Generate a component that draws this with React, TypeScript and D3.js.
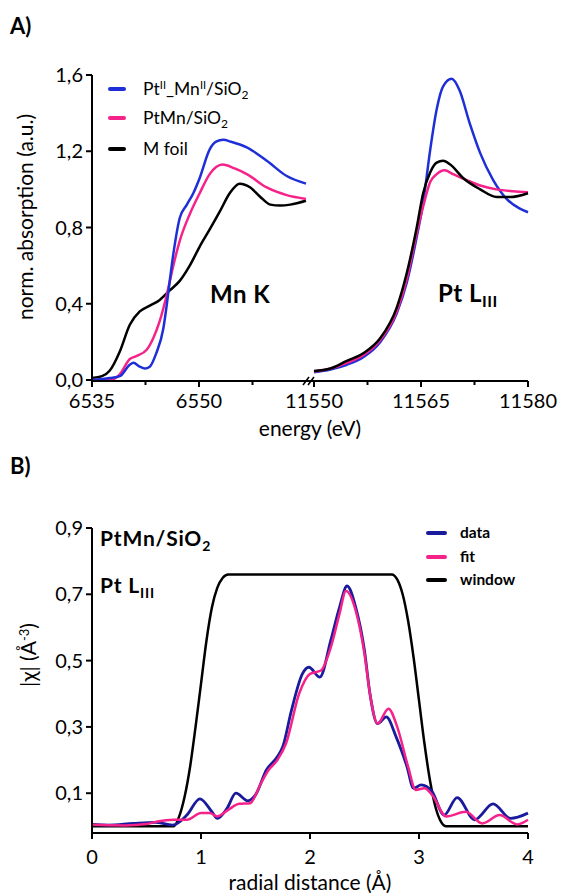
import React from "react";
import * as d3 from "d3";

// ---------- Panel A data ----------
const mnBlackE = [6535, 6536.4, 6537.5, 6538.9, 6540.3, 6541.7, 6543.1, 6544.5, 6545.9, 6547.3, 6548.7, 6550.1, 6551.5, 6553, 6554.3, 6555.7, 6557.2, 6558.6, 6560, 6561.4, 6562.8, 6565];
const mnBlackV = [0.01, 0.02, 0.05, 0.15, 0.29, 0.36, 0.39, 0.42, 0.47, 0.52, 0.6, 0.7, 0.79, 0.89, 0.98, 1.03, 1.01, 0.96, 0.92, 0.915, 0.92, 0.94];
const mnBlueE = [6535, 6537.5, 6538.9, 6540.3, 6540.8, 6541.7, 6542.4, 6543.1, 6544, 6545, 6545.5, 6545.9, 6546.4, 6547.3, 6548.3, 6549.2, 6550.1, 6551.5, 6552.4, 6553.4, 6554.5, 6556.7, 6559.5, 6562.3, 6565];
const mnBlueV = [0.0, 0.01, 0.02, 0.08, 0.09, 0.07, 0.06, 0.07, 0.14, 0.27, 0.4, 0.52, 0.66, 0.85, 0.92, 0.98, 1.06, 1.21, 1.25, 1.26, 1.25, 1.22, 1.15, 1.07, 1.03];
const mnPinkE = [6535, 6537.5, 6538.9, 6540.3, 6541.2, 6542.7, 6543.6, 6544.5, 6545.5, 6546.4, 6547.3, 6548.7, 6550.1, 6551.5, 6553.3, 6555, 6556.7, 6559.5, 6562.3, 6565];
const mnPinkV = [0.0, 0.0, 0.03, 0.11, 0.125, 0.16, 0.22, 0.31, 0.45, 0.6, 0.73, 0.87, 0.98, 1.08, 1.13, 1.11, 1.08, 1.01, 0.97, 0.95];

const ptBlackE = [11550, 11552.3, 11554.6, 11556.9, 11559.3, 11561.6, 11563, 11564.4, 11565.3, 11566.3, 11567.2, 11568.1, 11569.1, 11570.9, 11573.3, 11575.6, 11577.5, 11580];
const ptBlackV = [0.047, 0.06, 0.1, 0.14, 0.22, 0.38, 0.56, 0.8, 0.98, 1.09, 1.14, 1.15, 1.13, 1.06, 1.0, 0.96, 0.96, 0.98];
const ptPinkE = [11550, 11552.3, 11554.6, 11556.9, 11559.3, 11561.6, 11563, 11564.4, 11565.3, 11566.3, 11567.2, 11568.3, 11569.5, 11571.3, 11573.3, 11575.6, 11577.9, 11580];
const ptPinkV = [0.045, 0.06, 0.09, 0.13, 0.21, 0.36, 0.53, 0.77, 0.91, 1.04, 1.08, 1.1, 1.08, 1.05, 1.02, 1.0, 0.99, 0.985];
const ptBlueE = [11550, 11552.3, 11554.6, 11556.9, 11559.3, 11561.6, 11563, 11564.4, 11565.3, 11566.3, 11567.2, 11568.1, 11569.3, 11570.4, 11571.8, 11573.3, 11575.1, 11577, 11578.8, 11580];
const ptBlueV = [0.04, 0.055, 0.08, 0.12, 0.2, 0.35, 0.51, 0.75, 0.93, 1.21, 1.42, 1.54, 1.58, 1.52, 1.35, 1.19, 1.05, 0.95, 0.9, 0.88];

const yTicksA = [0, 0.4, 0.8, 1.2, 1.6];
const yTickLabelsA = ["0,0", "0,4", "0,8", "1,2", "1,6"];
const mnMajorTicks = [6535, 6550];
const mnMinorTicks = [6542.5, 6557.5];
const ptMajorTicks = [11550, 11565, 11580];
const ptMinorTicks = [11557.5, 11572.5];

// ---------- Panel B data ----------
const dataR = [0, 0.15, 0.38, 0.58, 0.74, 0.87, 0.99, 1.1, 1.15, 1.24, 1.32, 1.43, 1.5, 1.6, 1.7, 1.75, 1.83, 1.93, 1.99, 2.09, 2.19, 2.27, 2.34, 2.42, 2.5, 2.55, 2.62, 2.7, 2.79, 2.89, 2.95, 3.02, 3.12, 3.23, 3.35, 3.51, 3.68, 3.84, 4.0];
const dataV = [0.006, 0.004, 0.009, 0.012, 0.004, 0.034, 0.083, 0.044, 0.024, 0.055, 0.1, 0.077, 0.095, 0.17, 0.21, 0.24, 0.35, 0.46, 0.48, 0.45, 0.56, 0.66, 0.725, 0.66, 0.53, 0.4, 0.31, 0.33, 0.27, 0.18, 0.115, 0.125, 0.105, 0.034, 0.087, 0.02, 0.068, 0.024, 0.04];
const fitR = [0, 0.3, 0.5, 0.6, 0.75, 0.87, 1.0, 1.08, 1.15, 1.25, 1.35, 1.45, 1.55, 1.62, 1.7, 1.78, 1.9, 2.0, 2.1, 2.2, 2.27, 2.33, 2.42, 2.5, 2.55, 2.62, 2.72, 2.8, 2.9, 2.97, 3.05, 3.12, 3.25, 3.43, 3.58, 3.74, 3.9, 4.0];
const fitV = [0.005, 0.003, 0.007, 0.015, 0.02, 0.02, 0.04, 0.04, 0.03, 0.05, 0.068, 0.07, 0.13, 0.17, 0.2, 0.25, 0.4, 0.46, 0.47, 0.55, 0.64, 0.71, 0.65, 0.52, 0.4, 0.31, 0.355, 0.3, 0.18, 0.11, 0.115, 0.095, 0.03, 0.044, 0.009, 0.034, 0.006, 0.02];
const winR = [0, 0.75, 0.8, 0.85, 0.9, 0.95, 1.0, 1.05, 1.1, 1.15, 1.2, 1.25, 2.75, 2.8, 2.85, 2.9, 2.95, 3.0, 3.05, 3.1, 3.15, 3.2, 3.25, 4.0];
const winV = [0, 0, 0.03, 0.09, 0.18, 0.3, 0.43, 0.56, 0.66, 0.72, 0.75, 0.76, 0.76, 0.745, 0.7, 0.62, 0.51, 0.38, 0.25, 0.14, 0.06, 0.015, 0, 0];

const yTicksB = [0.1, 0.3, 0.5, 0.7, 0.9];
const yTickLabelsB = ["0,1", "0,3", "0,5", "0,7", "0,9"];
const xTicksB = [0, 1, 2, 3, 4];

const BLUE_A = "#1f2fd8";
const PINK = "#f5228a";
const BLUE_B = "#1a1a9c";
const FONT = "Lato, 'Open Sans', sans-serif";

export default function App() {
  // scales A
  const xMn = d3.scaleLinear().domain([6535, 6565]).range([92, 306]);
  const xPt = d3.scaleLinear().domain([11550, 11580]).range([314, 528]);
  const yA = d3.scaleLinear().domain([0, 1.6]).range([380, 75]);
  // scales B
  const xB = d3.scaleLinear().domain([0, 4]).range([92, 528]);
  const yB = d3.scaleLinear().domain([-0.02, 0.9]).range([833, 528]);

  const mkLine = (xs: d3.ScaleLinear<number, number>, ys: d3.ScaleLinear<number, number>, X: number[], Y: number[]) =>
    d3
      .line<number>()
      .x((_, i) => xs(X[i]))
      .y((d) => ys(d))
      .curve(d3.curveMonotoneX)(Y) || "";

  const axisY = 381;
  const axisB = 833;

  return (
    <svg width={563} height={895} style={{ display: "block", position: "absolute", left: 0, top: 0 }} fontFamily={FONT}>
      <rect width={563} height={895} fill="#fff" />
      {/* Panel labels */}
      <text x={10} y={34} fontSize={22} fontWeight="bold">A)</text>
      <text x={10} y={474} fontSize={22} fontWeight="bold">B)</text>

      {/* ---------- Panel A ---------- */}
      <g>
        <path d={mkLine(xMn, yA, mnBlackE, mnBlackV)} fill="none" stroke="#000" strokeWidth={2.5} />
        <path d={mkLine(xMn, yA, mnPinkE, mnPinkV)} fill="none" stroke={PINK} strokeWidth={2.5} />
        <path d={mkLine(xMn, yA, mnBlueE, mnBlueV)} fill="none" stroke={BLUE_A} strokeWidth={2.5} />
        <path d={mkLine(xPt, yA, ptBlueE, ptBlueV)} fill="none" stroke={BLUE_A} strokeWidth={2.5} />
        <path d={mkLine(xPt, yA, ptPinkE, ptPinkV)} fill="none" stroke={PINK} strokeWidth={2.5} />
        <path d={mkLine(xPt, yA, ptBlackE, ptBlackV)} fill="none" stroke="#000" strokeWidth={2.5} />

        {/* y axis */}
        <line x1={92} x2={92} y1={yA(1.6)} y2={axisY} stroke="#000" strokeWidth={2} />
        {yTicksA.map((t, i) => (
          <g key={t}>
            <line x1={86} x2={92} y1={yA(t)} y2={yA(t)} stroke="#000" strokeWidth={2} />
            <text x={83} y={yA(t)} dy="0.35em" textAnchor="end" fontSize={20}>{yTickLabelsA[i]}</text>
          </g>
        ))}
        {/* x axis with break */}
        <line x1={91} x2={528} y1={axisY} y2={axisY} stroke="#000" strokeWidth={2} />
        <line x1={303} x2={309} y1={axisY + 4} y2={axisY - 4} stroke="#000" strokeWidth={1.5} />
        <line x1={308} x2={314} y1={axisY + 4} y2={axisY - 4} stroke="#000" strokeWidth={1.5} />
        {mnMajorTicks.map((t) => (
          <g key={t}>
            <line x1={xMn(t)} x2={xMn(t)} y1={axisY} y2={axisY + 6} stroke="#000" strokeWidth={2} />
            <text x={xMn(t)} y={408} textAnchor="middle" fontSize={20}>{t}</text>
          </g>
        ))}
        {mnMinorTicks.map((t) => (
          <line key={t} x1={xMn(t)} x2={xMn(t)} y1={axisY} y2={axisY + 4} stroke="#000" strokeWidth={2} />
        ))}
        {ptMajorTicks.map((t) => (
          <g key={t}>
            <line x1={xPt(t)} x2={xPt(t)} y1={axisY} y2={axisY + 6} stroke="#000" strokeWidth={2} />
            <text x={xPt(t)} y={408} textAnchor="middle" fontSize={20}>{t}</text>
          </g>
        ))}
        {ptMinorTicks.map((t) => (
          <line key={t} x1={xPt(t)} x2={xPt(t)} y1={axisY} y2={axisY + 4} stroke="#000" strokeWidth={2} />
        ))}
        <text x={310} y={436} textAnchor="middle" fontSize={21}>energy (eV)</text>
        <text transform="translate(33,217) rotate(-90)" textAnchor="middle" fontSize={21}>norm. absorption (a.u.)</text>

        {/* legend */}
        <line x1={110} x2={124} y1={89} y2={89} stroke={BLUE_A} strokeWidth={4} strokeLinecap="round" />
        <text x={143} y={95} fontSize={17.5}>
          Pt<tspan dy={-6} fontSize={11}>II</tspan><tspan dy={6}>_Mn</tspan><tspan dy={-6} fontSize={11}>II</tspan><tspan dy={6}>/SiO</tspan><tspan dy={4} fontSize={12}>2</tspan>
        </text>
        <line x1={110} x2={124} y1={118} y2={118} stroke={PINK} strokeWidth={4} strokeLinecap="round" />
        <text x={143} y={124} fontSize={17.5}>
          PtMn/SiO<tspan dy={4} fontSize={12}>2</tspan>
        </text>
        <line x1={110} x2={124} y1={149} y2={149} stroke="#000" strokeWidth={4} strokeLinecap="round" />
        <text x={143} y={155} fontSize={17.5}>M foil</text>

        {/* edge labels */}
        <text x={210} y={303} fontSize={24} fontWeight="bold" letterSpacing={0.5}>Mn K</text>
        <text x={438} y={302} fontSize={24} fontWeight="bold" letterSpacing={0.5}>
          Pt L<tspan dy={5} fontSize={16}>III</tspan>
        </text>
      </g>

      {/* ---------- Panel B ---------- */}
      <g>
        <path d={mkLine(xB, yB, winR, winV)} fill="none" stroke="#000" strokeWidth={2.5} />
        <path d={mkLine(xB, yB, dataR, dataV)} fill="none" stroke={BLUE_B} strokeWidth={2.8} />
        <path d={mkLine(xB, yB, fitR, fitV)} fill="none" stroke={PINK} strokeWidth={2.5} />

        <line x1={92} x2={92} y1={yB(0.9)} y2={axisB} stroke="#000" strokeWidth={2} />
        {yTicksB.map((t, i) => (
          <g key={t}>
            <line x1={86} x2={92} y1={yB(t)} y2={yB(t)} stroke="#000" strokeWidth={2} />
            <text x={83} y={yB(t)} dy="0.35em" textAnchor="end" fontSize={20}>{yTickLabelsB[i]}</text>
          </g>
        ))}
        <line x1={91} x2={528} y1={axisB} y2={axisB} stroke="#000" strokeWidth={2} />
        {xTicksB.map((t) => (
          <g key={t}>
            <line x1={xB(t)} x2={xB(t)} y1={axisB} y2={axisB + 6} stroke="#000" strokeWidth={2} />
            <text x={xB(t)} y={864} textAnchor="middle" fontSize={20}>{t}</text>
          </g>
        ))}
        <text x={310} y={890} textAnchor="middle" fontSize={21}>radial distance (Å)</text>
        <text transform="translate(36,655) rotate(-90)" textAnchor="middle" fontSize={21}>
          |χ| (Å<tspan dy={-7} fontSize={13}>-3</tspan><tspan dy={7}>)</tspan>
        </text>

        <text x={100} y={546} fontSize={21} fontWeight="bold" letterSpacing={0.8}>
          PtMn/SiO<tspan dy={5} fontSize={14}>2</tspan>
        </text>
        <text x={100} y={593} fontSize={21} fontWeight="bold" letterSpacing={0.8}>
          Pt L<tspan dy={5} fontSize={14}>III</tspan>
        </text>

        <line x1={428} x2={445} y1={533} y2={533} stroke={BLUE_B} strokeWidth={4} strokeLinecap="round" />
        <text x={460} y={538} fontSize={15.5} fontWeight="bold">data</text>
        <line x1={428} x2={445} y1={557} y2={557} stroke={PINK} strokeWidth={4} strokeLinecap="round" />
        <text x={460} y={562} fontSize={15.5} fontWeight="bold">fit</text>
        <line x1={428} x2={445} y1={580} y2={580} stroke="#000" strokeWidth={4} strokeLinecap="round" />
        <text x={460} y={585} fontSize={15.5} fontWeight="bold">window</text>
      </g>
    </svg>
  );
}
